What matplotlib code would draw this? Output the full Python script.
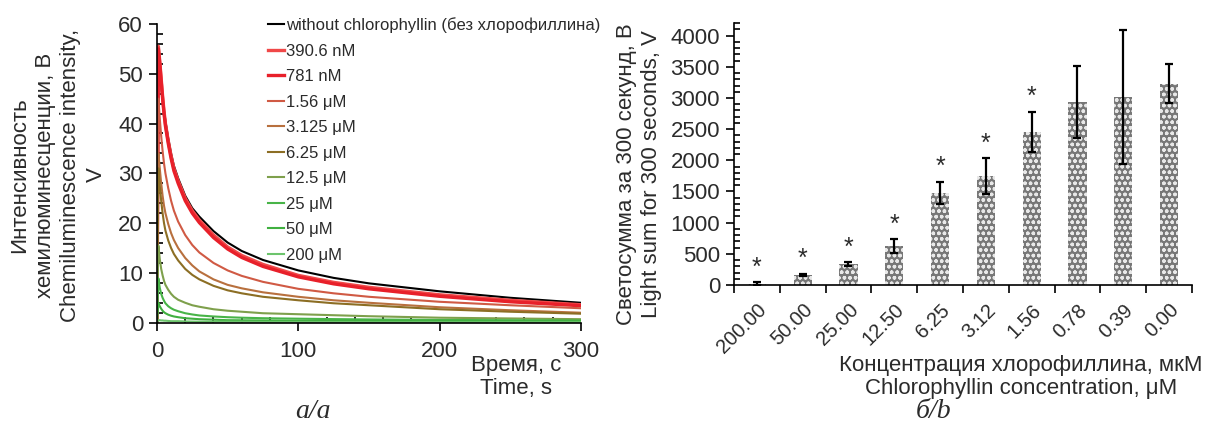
import numpy as np
import matplotlib.pyplot as plt
from matplotlib.ticker import MultipleLocator

plt.rcParams['font.family'] = ['Liberation Sans', 'DejaVu Sans']
plt.rcParams['hatch.linewidth'] = 1.0

# --- panel a: chemiluminescence kinetics ---
time_s = [0, 1, 2, 3, 4, 5, 6, 8, 10, 12, 15, 20, 25, 30, 40, 50, 60, 75, 100,
          125, 150, 200, 250, 300]
curve_labels = ['without chlorophyllin (без хлорофиллина)', '390.6 nM', '781 nM',
                '1.56 μM', '3.125 μM', '6.25 μM', '12.5 μM', '25 μM', '50 μM', '200 μM']
curve_colors = ['#000000', '#f04848', '#e8202a', '#d05a44', '#b8703e', '#8c6e24',
                '#7ea04c', '#48b448', '#40b040', '#6cc46c']
curves = [
    [0, 50, 50, 47.5, 45, 42.5, 40.5, 37, 34, 31.5, 29, 25.5, 23, 21.3, 18.4, 16.1,
     14.4, 12.6, 10.5, 9.0, 7.9, 6.3, 5.0, 4.0],
    [0, 55.5, 52.5, 49, 45.5, 42.5, 40, 36.5, 33.5, 31, 28.5, 25, 22.5, 20.6, 17.6,
     15.2, 13.5, 11.7, 9.5, 8.1, 7.1, 5.6, 4.5, 3.6],
    [0, 55, 52, 48.5, 45, 42, 39.5, 36, 33, 30.5, 28, 24.5, 22, 20.1, 17.1, 14.8,
     13.1, 11.3, 9.2, 7.8, 6.8, 5.3, 4.2, 3.4],
    [0, 45, 41, 37.5, 34.5, 32, 30, 27, 24.5, 22.5, 20.3, 17.6, 15.6, 14.1, 12.0,
     10.5, 9.4, 8.2, 6.8, 5.9, 5.2, 4.2, 3.5, 2.9],
    [0, 34, 31, 28, 25.5, 23.5, 22, 19.8, 18, 16.6, 15, 13, 11.5, 10.3, 8.7, 7.6,
     6.9, 6.1, 5.2, 4.5, 4.0, 3.1, 2.5, 2.0],
    [0, 31, 27.5, 24.5, 22, 20, 18.5, 16.5, 15, 13.8, 12.5, 10.8, 9.6, 8.7, 7.4, 6.5,
     5.9, 5.2, 4.5, 3.9, 3.5, 2.7, 2.2, 1.8],
    [0, 15.5, 12.8, 10.8, 9.5, 8.4, 7.6, 6.6, 5.8, 5.2, 4.6, 4.0, 3.5, 3.2, 2.7, 2.4,
     2.2, 1.9, 1.7, 1.5, 1.3, 1.0, 0.85, 0.7],
    [0, 8.9, 7.0, 5.8, 5.0, 4.4, 3.9, 3.3, 2.9, 2.6, 2.3, 1.9, 1.65, 1.45, 1.25, 1.1,
     1.0, 0.9, 0.8, 0.72, 0.65, 0.55, 0.5, 0.45],
    [0, 4.0, 3.3, 2.8, 2.4, 2.1, 1.9, 1.6, 1.4, 1.25, 1.1, 0.9, 0.8, 0.7, 0.6, 0.5,
     0.48, 0.45, 0.4, 0.38, 0.35, 0.3, 0.3, 0.3],
    [0, 0.5, 0.5, 0.45, 0.45, 0.4, 0.4, 0.35, 0.3, 0.3, 0.3, 0.25, 0.22, 0.2, 0.2,
     0.2, 0.18, 0.15, 0.15, 0.12, 0.1, 0.1, 0.1, 0.1],
]

# --- panel b: light sum for 300 s ---
conc_labels = ['200.00', '50.00', '25.00', '12.50', '6.25', '3.12', '1.56', '0.78', '0.39', '0.00']
light_sum = [20, 162, 335, 625, 1475, 1745, 2455, 2935, 3010, 3230]
light_err = [25, 18, 32, 115, 180, 290, 325, 585, 1075, 318]
significant = [True, True, True, True, True, True, True, False, False, False]

text_col = '#2b2b2b'
fs = 16

fig = plt.figure(figsize=(12.11, 4.43), dpi=100)

ax1 = fig.add_axes([0.1296, 0.2716, 0.3501, 0.6743])
for vals, col, lab in zip(curves, curve_colors, curve_labels):
    lw = 2.4 if col in ('#f04848', '#e8202a') else 1.5
    ax1.plot(time_s, vals, color=col, lw=lw, label=lab)
ax1.set_xlim(0, 300)
ax1.set_ylim(0, 60)
ax1.xaxis.set_major_locator(MultipleLocator(100))
ax1.xaxis.set_minor_locator(MultipleLocator(20))
ax1.yaxis.set_major_locator(MultipleLocator(10))
ax1.yaxis.set_minor_locator(MultipleLocator(2))
ax1.tick_params(which='major', direction='out', length=6, width=1.2,
                labelsize=fs, labelcolor=text_col)
ax1.tick_params(which='minor', direction='in', length=4, width=1.2)
ax1.tick_params(axis='x', pad=7)
ax1.tick_params(axis='y', pad=4)
for s in ['top', 'right']:
    ax1.spines[s].set_visible(False)
for s in ['left', 'bottom']:
    ax1.spines[s].set_linewidth(1.2)
fig.text(58 / 1211, 1 - 175 / 443,
         'Интенсивность\nхемилюминесценции, В\nChemiluminescence intensity,\nV',
         rotation=90, ha='center', va='center', multialignment='center',
         fontsize=fs, color=text_col, linespacing=1.3)
fig.text(516 / 1211, 1 - 377 / 443, 'Время, с\nTime, s', ha='center', va='center',
         fontsize=fs, color=text_col, linespacing=1.15)
leg = ax1.legend(loc='upper left', bbox_to_anchor=(0.262, 1.022), frameon=False,
                 fontsize=12, handlelength=0.95, handletextpad=0.12,
                 labelspacing=0.63, borderpad=0, borderaxespad=0)
for t in leg.get_texts():
    t.set_color(text_col)
fig.text(313 / 1211, 1 - 411 / 443, 'a/a', ha='center', va='center', fontsize=20,
         family='Liberation Serif', style='italic', color=text_col)

ax2 = fig.add_axes([0.6061, 0.3567, 0.3782, 0.591])
x = np.arange(len(conc_labels))
ax2.bar(x, light_sum, width=0.4, color='#777777', edgecolor='#e8e8e8',
        linewidth=0, hatch='ooo')
ax2.errorbar(x, light_sum, yerr=light_err, fmt='none', ecolor='black',
             elinewidth=1.6, capsize=3, capthick=1.6)
for xi, v, e, sig in zip(x, light_sum, light_err, significant):
    if sig:
        ax2.text(xi, v + e + 40, '*', ha='center', va='bottom', fontsize=18,
                 color=text_col)
ax2.set_xlim(-0.5, len(conc_labels) - 0.5)
ax2.set_ylim(0, 4200)
ax2.set_xticks(np.arange(-0.5, len(conc_labels), 1))
ax2.set_xticklabels([])
ax2.set_xticks(x, minor=True)
ax2.set_xticklabels(conc_labels, minor=True, rotation=45, ha='right',
                    rotation_mode='anchor')
ax2.yaxis.set_major_locator(MultipleLocator(500))
ax2.yaxis.set_minor_locator(MultipleLocator(100))
ax2.tick_params(axis='x', which='major', direction='out', length=6, width=1.2)
ax2.tick_params(axis='x', which='minor', length=0, pad=11, labelsize=14.5,
                labelcolor=text_col)
ax2.tick_params(axis='y', which='major', direction='out', length=6, width=1.2,
                labelsize=fs, labelcolor=text_col, pad=4)
ax2.tick_params(axis='y', which='minor', direction='in', length=4, width=1.2)
for s in ['top', 'right']:
    ax2.spines[s].set_visible(False)
for s in ['left', 'bottom']:
    ax2.spines[s].set_linewidth(1.2)
fig.text(639 / 1211, 1 - 174 / 443,
         'Светосумма за 300 секунд, В\nLight sum for 300 seconds, V',
         rotation=90, ha='center', va='center', multialignment='center',
         fontsize=fs, color=text_col, linespacing=1.3)
fig.text(1021 / 1211, 1 - 377 / 443,
         'Концентрация хлорофиллина, мкМ\nChlorophyllin concentration, μM',
         ha='center', va='center', fontsize=fs, color=text_col, linespacing=1.15)
fig.text(934 / 1211, 1 - 411 / 443, 'б/b', ha='center', va='center', fontsize=20,
         family='Liberation Serif', style='italic', color=text_col)

fig.savefig('out.png', dpi=100)
